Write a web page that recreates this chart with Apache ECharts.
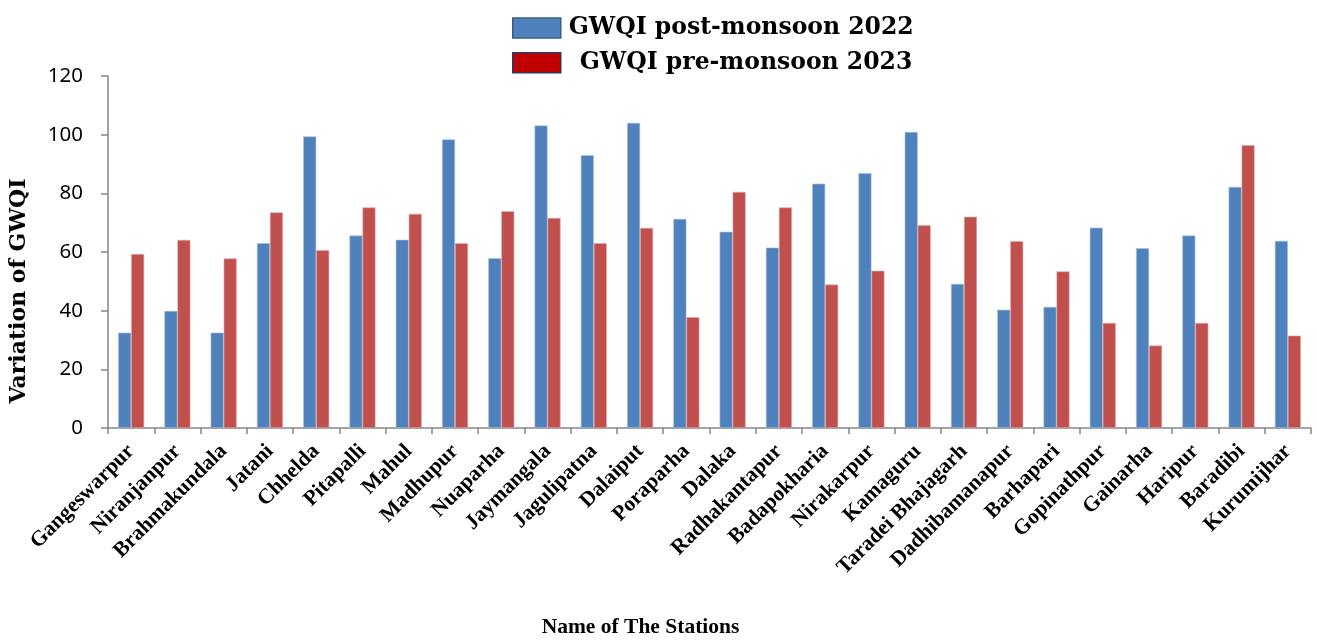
<!DOCTYPE html>
<html>
<head>
<meta charset="utf-8">
<title>GWQI variation by station</title>
<script src="https://cdn.jsdelivr.net/npm/echarts@6/dist/echarts.min.js"></script>
<style>
  html, body { margin: 0; padding: 0; background: #ffffff; }
  #chart { width: 1317px; height: 643px; }
</style>
</head>
<body>
<div id="chart"></div>
<script>
// Sampling stations along the x axis
const stations = [
  'Gangeswarpur', 'Niranjanpur', 'Brahmakundala', 'Jatani', 'Chhelda', 'Pitapalli',
  'Mahul', 'Madhupur', 'Nuaparha', 'Jaymangala', 'Jagulipatna', 'Dalaiput',
  'Poraparha', 'Dalaka', 'Radhakantapur', 'Badapokharia', 'Nirakarpur', 'Kamaguru',
  'Taradei Bhajagarh', 'Dadhibamanapur', 'Barhapari', 'Gopinathpur', 'Gainarha',
  'Haripur', 'Baradibi', 'Kurumijhar'
];

// GWQI, post-monsoon season 2022
const postMonsoon2022 = [
  32.5, 39.9, 32.5, 63.0, 99.4, 65.6,
  64.2, 98.4, 57.9, 103.1, 93.0, 104.0,
  71.3, 66.9, 61.5, 83.3, 86.9, 100.9,
  49.1, 40.3, 41.3, 68.3, 61.3,
  65.6, 82.2, 63.8
];

// GWQI, pre-monsoon season 2023
const preMonsoon2023 = [
  59.3, 64.1, 57.8, 73.5, 60.6, 75.2,
  73.0, 63.0, 73.9, 71.6, 63.0, 68.2,
  37.8, 80.5, 75.2, 48.9, 53.6, 69.1,
  72.0, 63.7, 53.4, 35.8, 28.1,
  35.8, 96.4, 31.5
];

// Value axis ticks
const yMin = 0;
const yMax = 120;
const yStep = 20;

const seriesNames = ['GWQI post-monsoon 2022', 'GWQI pre-monsoon 2023'];

const axisGrey = '#868686';
const serifBold = '"Liberation Serif", "Times New Roman", serif';
const wideSerif = '"DejaVu Serif", serif';

const chart = echarts.init(document.getElementById('chart'), null, { renderer: 'canvas' });

const legendFont = { color: '#000000', fontFamily: wideSerif, fontWeight: 'bold', fontSize: 23.5, lineHeight: 20 };

chart.setOption({
  backgroundColor: '#ffffff',
  animation: false,
  legend: {
    orient: 'vertical',
    left: 512,
    top: 16,
    padding: 0,
    itemWidth: 48,
    itemHeight: 20,
    itemGap: 10.7,
    icon: 'rect',
    selectedMode: false,
    data: [
      { name: seriesNames[0], itemStyle: { color: '#4F81BD', borderColor: '#385D8A', borderWidth: 1.5 } },
      { name: seriesNames[1], itemStyle: { color: '#C00000', borderColor: '#2E3A5C', borderWidth: 1.5 } }
    ],
    formatter: function (name) {
      return name === seriesNames[1] ? '{pre|' + name + '}' : '{post|' + name + '}';
    },
    textStyle: Object.assign({}, legendFont, {
      rich: {
        post: Object.assign({ padding: [0, 0, 0, 3] }, legendFont),
        pre: Object.assign({ padding: [0, 0, 0, 14] }, legendFont)
      }
    })
  },
  grid: {
    left: 107,
    right: 6,
    top: 76,
    bottom: 213,
    containLabel: false
  },
  xAxis: {
    type: 'category',
    data: stations,
    boundaryGap: true,
    name: 'Name of The Stations',
    nameLocation: 'middle',
    nameGap: 188,
    nameTextStyle: {
      color: '#000000',
      fontFamily: serifBold,
      fontWeight: 'bold',
      fontSize: 21.5,
      verticalAlign: 'top',
      padding: [0, 138, 0, 0]
    },
    axisLine: { show: true, lineStyle: { color: axisGrey, width: 1.5 } },
    axisTick: { show: true, length: 6, inside: false, alignWithLabel: false, lineStyle: { color: axisGrey, width: 1.5 } },
    axisLabel: {
      interval: 0,
      rotate: 45,
      margin: 20,
      color: '#000000',
      fontFamily: serifBold,
      fontWeight: 'bold',
      fontSize: 21.5
    },
    splitLine: { show: false }
  },
  yAxis: {
    type: 'value',
    min: yMin,
    max: yMax,
    interval: yStep,
    name: 'Variation of GWQI',
    nameLocation: 'middle',
    nameGap: 78,
    nameRotate: 90,
    nameTextStyle: {
      color: '#000000',
      fontFamily: wideSerif,
      fontWeight: 'bold',
      fontSize: 22,
      padding: [0, 78, 0, 0]
    },
    axisLine: { show: true, lineStyle: { color: axisGrey, width: 1.5 } },
    axisTick: { show: true, length: 7, inside: false, lineStyle: { color: axisGrey, width: 1.5 } },
    axisLabel: {
      margin: 25,
      color: '#000000',
      fontFamily: '"Noto Sans", "Open Sans", sans-serif',
      fontSize: 20.5
    },
    splitLine: { show: false }
  },
  series: [
    {
      name: seriesNames[0],
      type: 'bar',
      data: postMonsoon2022,
      barWidth: 13,
      barGap: '0%',
      itemStyle: { color: '#4F81BD', borderColor: '#A9C0DE', borderWidth: 0.6 }
    },
    {
      name: seriesNames[1],
      type: 'bar',
      data: preMonsoon2023,
      barWidth: 13,
      barGap: '0%',
      itemStyle: { color: '#C0504D', borderColor: '#E2A9A7', borderWidth: 0.6 }
    }
  ]
});
</script>
</body>
</html>
